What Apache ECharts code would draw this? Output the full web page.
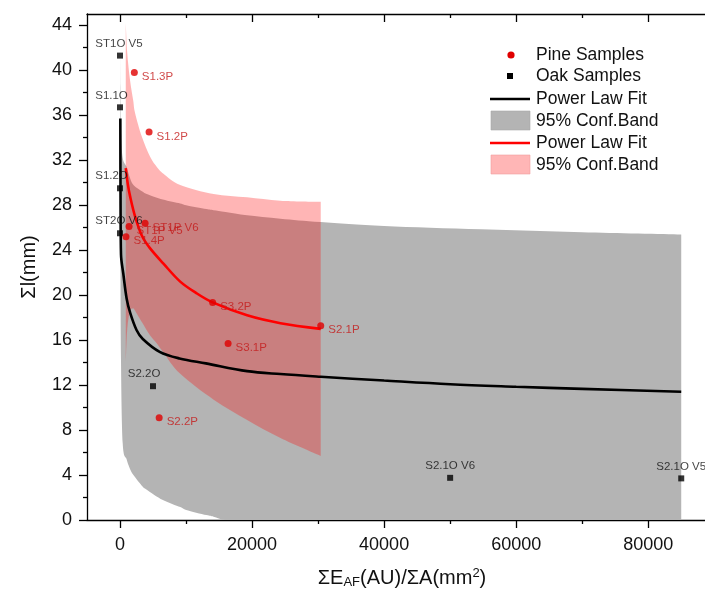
<!DOCTYPE html>
<html>
<head>
<meta charset="utf-8">
<script src="https://cdn.jsdelivr.net/npm/echarts@6/dist/echarts.min.js"></script>
<style>
  html, body { margin: 0; padding: 0; background: #fff; }
  #chart { width: 705px; height: 595px; }
</style>
</head>
<body>
<div id="chart"></div>
<script>
// ---- Pine samples: ΣE_AF/ΣA (AU/mm²) against Σl (mm)
const pineNames = ['S1.3P', 'S1.2P', 'ST1P V5', 'ST1P V6', 'S1.4P', 'S3.2P', 'S2.1P', 'S3.1P', 'S2.2P'];
const pineX = [2170, 4400, 1370, 3800, 900, 14030, 30400, 16370, 5930];
const pineY = [39.8, 34.5, 26.1, 26.4, 25.2, 19.35, 17.27, 15.7, 9.1];

// ---- Oak samples
const oakNames = ['ST1O V5', 'S1.1O', 'S1.2O', 'ST2O V6', 'S2.2O', 'S2.1O V6', 'S2.1O V5'];
const oakX = [0, 0, 0, 0, 5000, 50000, 85000];
const oakY = [41.3, 36.7, 29.5, 25.5, 11.9, 3.75, 3.7];

// ---- Power law fit curves
const oakFitX = [50, 80, 150, 500, 1000, 1500, 2500, 3450, 6000, 9000, 13000, 19250, 24300, 30400, 40000, 50000, 60000, 70000, 85000];
const oakFitY = [35.7, 28.4, 23.6, 21.9, 19.7, 18.5, 16.9, 16.1, 14.96, 14.37, 13.93, 13.24, 12.98, 12.74, 12.4, 12.07, 11.85, 11.66, 11.4];

const pineFitX = [870, 1200, 1520, 2280, 3300, 4500, 6580, 9120, 11500, 14030, 19250, 24300, 30400];
const pineFitY = [31.3, 29.8, 28.8, 27.0, 25.3, 24.2, 22.8, 21.2, 20.2, 19.35, 18.2, 17.5, 17.0];

// ---- 95% confidence bands (upper / lower limits)
const oakBandX = [20, 60, 150, 410, 1000, 1410, 2030, 3450, 4050, 6490, 9120, 10030, 13070, 14180, 16000, 19250, 24300, 30400, 40000, 54700, 70000, 85000];
const oakBandUpper = [44, 38.5, 34.5, 32.2, 31.4, 30.6, 29.8, 29.2, 29.0, 28.5, 28.15, 28.0, 27.65, 27.55, 27.4, 27.1, 26.8, 26.5, 26.15, 25.85, 25.6, 25.4];
const oakBandLower = [34, 24, 14.2, 6.8, 5.4, 4.7, 4.0, 2.96, 2.7, 1.78, 1.15, 0.9, 0.44, 0.3, 0, 0, 0, 0, 0, 0, 0, 0];

const pineBandX = [870, 1100, 1520, 2000, 2280, 3300, 4560, 5580, 6580, 9120, 14180, 19250, 24300, 30400];
const pineBandUpper = [44.2, 41.5, 39.1, 37.3, 36.2, 34.1, 32.3, 31.4, 30.8, 29.8, 29.0, 28.7, 28.4, 28.3];
const pineBandLower = [14, 17, 18.6, 18.8, 18.6, 17.6, 16.4, 15.7, 14.9, 13.0, 10.7, 8.9, 7.3, 5.7];

// ---- Axis ticks
const xTicks = [0, 20000, 40000, 60000, 80000];
const xMinorTicks = [10000, 30000, 50000, 70000];
const yTicks = [0, 4, 8, 12, 16, 20, 24, 28, 32, 36, 40, 44];
const yMinorTicks = [2, 6, 10, 14, 18, 22, 26, 30, 34, 38, 42];

// ---- Legend entries
const legendLabels = ['Pine Samples', 'Oak Samples', 'Power Law Fit', '95% Conf.Band', 'Power Law Fit', '95% Conf.Band'];

const FONT = "'Liberation Sans', Arial, sans-serif";
const PINE_RED = '#e00000';
const PINE_TEXT = '#c41a1a';
const BAND_GRAY = '#b4b4b4';
const BAND_PINK = 'rgba(255,0,0,0.29)';

// oak labels nudged sideways so they clear the fit curve
const oakLabelShift = { 'S1.1O': -8.5, 'S1.2O': -8.5, 'S2.2O': -9, 'ST1O V5': -1, 'ST2O V6': -1 };

const X_MIN = -5000, X_MAX = 88600, Y_MIN = 0, Y_MAX = 45;

// Catmull-Rom through pixel points, emitted as cubic bezier segments
function smoothSegments(pts) {
  let d = '';
  for (let i = 0; i < pts.length - 1; i++) {
    const p0 = pts[Math.max(i - 1, 0)], p1 = pts[i], p2 = pts[i + 1], p3 = pts[Math.min(i + 2, pts.length - 1)];
    const c1x = p1[0] + (p2[0] - p0[0]) / 6, c1y = p1[1] + (p2[1] - p0[1]) / 6;
    const c2x = p2[0] - (p3[0] - p1[0]) / 6, c2y = p2[1] - (p3[1] - p1[1]) / 6;
    d += ' C' + c1x.toFixed(2) + ',' + c1y.toFixed(2) + ' ' + c2x.toFixed(2) + ',' + c2y.toFixed(2) + ' ' + p2[0].toFixed(2) + ',' + p2[1].toFixed(2);
  }
  return d;
}

// filled region between an upper and a lower limit curve
function bandSeries(xs, up, lo, color, z) {
  const rows = xs.map((x, i) => [x, up[i], lo[i]]);
  return {
    type: 'custom',
    z: z,
    silent: true,
    clip: true,
    data: rows,
    encode: { x: 0, y: [1, 2] },
    renderItem: function (params, api) {
      if (params.dataIndex !== 0) return null;
      const top = rows.map((r) => api.coord([r[0], r[1]]));
      const bottom = rows.map((r) => api.coord([r[0], r[2]])).reverse();
      let d = 'M' + top[0][0].toFixed(2) + ',' + top[0][1].toFixed(2);
      d += smoothSegments(top);
      d += ' L' + bottom[0][0].toFixed(2) + ',' + bottom[0][1].toFixed(2);
      d += smoothSegments(bottom);
      d += ' Z';
      return { type: 'path', shape: { pathData: d }, style: { fill: color } };
    }
  };
}

function tickAxis(kind, position, values, len, inside, showLine, showLabel) {
  const ax = {
    type: 'value',
    position: position,
    min: kind === 'x' ? X_MIN : Y_MIN,
    max: kind === 'x' ? X_MAX : Y_MAX,
    splitLine: { show: false },
    axisLine: { show: showLine, onZero: false, lineStyle: { color: '#000', width: 1.3 } },
    axisTick: { show: true, inside: inside, length: len, customValues: values, lineStyle: { color: '#000', width: 1.3 } },
    axisLabel: { show: false }
  };
  if (showLabel) {
    ax.axisLabel = {
      show: true,
      customValues: values,
      fontFamily: FONT,
      fontSize: 18,
      color: '#111',
      margin: kind === 'x' ? 16 : 15,
      formatter: (v) => String(v)
    };
  }
  return ax;
}

const xBottom = tickAxis('x', 'bottom', xTicks, 8, false, true, true);
xBottom.name = 'ΣE{sub|AF}(AU)/ΣA(mm{sup|2})';
xBottom.nameLocation = 'middle';
xBottom.nameGap = 47;
xBottom.nameTextStyle = {
  fontFamily: FONT, fontSize: 20, color: '#111', padding: [0, 0, 0, 12],
  rich: {
    sub: { fontFamily: FONT, fontSize: 13, color: '#111', verticalAlign: 'bottom', padding: [9, 0, 0, 0] },
    sup: { fontFamily: FONT, fontSize: 13, color: '#111', verticalAlign: 'top', padding: [0, 0, 8, 0] }
  }
};

const yLeft = tickAxis('y', 'left', yTicks, 8, false, true, true);
yLeft.name = 'Σl(mm)';
yLeft.nameLocation = 'middle';
yLeft.nameGap = 48;
yLeft.nameTextStyle = { fontFamily: FONT, fontSize: 20, color: '#111' };

const option = {
  animation: false,
  backgroundColor: '#fff',
  grid: { left: 87, right: 0, top: 14, bottom: 75, containLabel: false },
  xAxis: [
    xBottom,
    tickAxis('x', 'bottom', xMinorTicks, 4, false, false, false),
    tickAxis('x', 'top', xTicks, 8, true, true, false),
    tickAxis('x', 'top', xMinorTicks, 4, true, false, false)
  ],
  yAxis: [
    yLeft,
    tickAxis('y', 'left', yMinorTicks, 4, false, false, false)
  ],
  series: [
    bandSeries(oakBandX, oakBandUpper, oakBandLower, BAND_GRAY, 1),
    bandSeries(pineBandX, pineBandUpper, pineBandLower, BAND_PINK, 2),
    {
      type: 'line', name: 'Oak fit', z: 3,
      data: oakFitX.map((x, i) => [x, oakFitY[i]]),
      showSymbol: false, symbol: 'none', smooth: 0.35,
      lineStyle: { color: '#000', width: 2.6 }, silent: true
    },
    {
      type: 'line', name: 'Pine fit', z: 3,
      data: pineFitX.map((x, i) => [x, pineFitY[i]]),
      showSymbol: false, symbol: 'none', smooth: 0.35,
      lineStyle: { color: '#ff0000', width: 2.6 }, silent: true
    },
    {
      type: 'scatter', name: 'Oak Samples', z: 5,
      symbol: 'rect', symbolSize: 6,
      itemStyle: { color: '#000' },
      label: {
        show: true, position: 'top', distance: 3,
        fontFamily: FONT, fontSize: 11.5, color: '#111',
        formatter: (p) => p.name
      },
      data: oakNames.map((n, i) => ({
        name: n,
        value: [oakX[i], oakY[i]],
        label: { offset: [oakLabelShift[n] || 0, 0] }
      }))
    },
    {
      type: 'scatter', name: 'Pine Samples', z: 6,
      symbol: 'circle', symbolSize: 7,
      itemStyle: { color: PINE_RED },
      label: {
        show: true, position: 'right', distance: 4, offset: [0, 4.5],
        fontFamily: FONT, fontSize: 11.5, color: PINE_TEXT,
        formatter: (p) => p.name
      },
      data: pineNames.map((n, i) => ({ name: n, value: [pineX[i], pineY[i]] }))
    }
  ],
  graphic: []
};

// legend block in the upper right corner
(function buildLegend() {
  const rowY = [55, 76, 99, 121, 143, 165];
  const textX = 536;
  const g = option.graphic;
  g.push({ type: 'circle', shape: { cx: 511, cy: rowY[0], r: 3.6 }, style: { fill: PINE_RED }, z: 100 });
  g.push({ type: 'rect', shape: { x: 507, y: rowY[1] - 3, width: 6, height: 6 }, style: { fill: '#000' }, z: 100 });
  g.push({ type: 'line', shape: { x1: 490, y1: rowY[2], x2: 530, y2: rowY[2] }, style: { stroke: '#000', lineWidth: 2.6 }, z: 100 });
  g.push({ type: 'rect', shape: { x: 491, y: rowY[3] - 10, width: 39, height: 19 }, style: { fill: BAND_GRAY, stroke: '#a8a8a8', lineWidth: 0.6 }, z: 100 });
  g.push({ type: 'line', shape: { x1: 490, y1: rowY[4], x2: 530, y2: rowY[4] }, style: { stroke: '#ff0000', lineWidth: 2.6 }, z: 100 });
  g.push({ type: 'rect', shape: { x: 491, y: rowY[5] - 10, width: 39, height: 19 }, style: { fill: '#ffb6b6', stroke: '#f0a0a0', lineWidth: 0.6 }, z: 100 });
  legendLabels.forEach((t, i) => {
    g.push({
      type: 'text', x: textX, y: rowY[i], z: 100,
      style: { text: t, fontFamily: FONT, fontSize: 17.5, fill: '#111', textVerticalAlign: 'middle', verticalAlign: 'middle' }
    });
  });
})();

const chart = echarts.init(document.getElementById('chart'), null, { renderer: 'canvas' });
chart.setOption(option);
</script>
</body>
</html>
